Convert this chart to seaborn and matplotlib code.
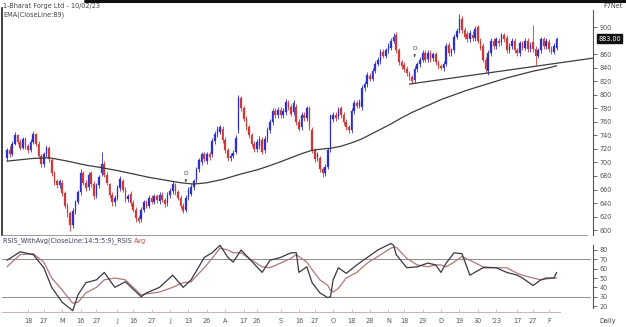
import matplotlib
matplotlib.use("Agg")
import matplotlib.pyplot as plt
import matplotlib.transforms as mtrans
from matplotlib.lines import Line2D
import numpy as np
import pandas as pd
import seaborn as sns

# ---------------- data ----------------
opens = [706,718,712,728,740,731,722,735,724,718,
         730,742,728,710,698,712,722,703,684,672,
         666,670,655,636,625,607,628,641,656,685,
         670,663,684,668,652,666,685,698,682,668,
         652,641,648,662,672,660,646,654,640,630,
         618,616,630,641,636,648,642,650,643,652,
         645,640,652,658,668,656,648,636,630,648,
         654,664,674,690,700,712,702,712,712,732,
         742,745,750,733,718,706,710,716,748,795,
         780,765,752,740,728,720,724,733,718,735,
         748,760,776,770,778,770,774,788,782,774,
         782,760,752,770,766,780,748,718,708,706,
         690,684,694,720,764,770,768,780,770,760,
         752,748,776,788,784,782,810,816,828,824,
         836,846,850,864,858,866,870,880,888,866,
         848,844,838,832,826,822,838,845,852,862,
         853,862,854,860,848,842,840,846,874,862,
         866,886,895,912,896,890,882,888,884,900,
         880,872,852,836,862,880,872,880,878,888,
         884,866,872,880,866,862,876,870,880,868,
         878,868,858,866,882,872,878,868,864,870]
closes = [718,712,728,740,731,722,735,724,718,730,
          742,728,710,697,712,722,705,684,671,666,
          672,655,636,625,607,628,641,656,685,670,
          662,682,668,650,666,678,698,682,670,652,
          641,648,662,676,660,646,650,640,630,618,
          614,630,641,636,648,642,650,644,652,645,
          638,652,658,668,656,648,636,628,648,660,
          664,672,690,703,712,705,712,708,732,742,
          750,752,733,718,706,710,714,736,795,780,
          765,752,740,728,720,730,735,716,735,748,
          760,776,770,778,770,776,790,782,772,788,
          760,750,770,766,780,752,718,705,712,690,
          684,694,718,768,770,766,778,770,760,752,
          748,776,788,784,790,810,816,830,824,836,
          846,852,864,858,866,872,880,886,866,848,
          842,838,832,826,820,838,845,852,862,852,
          862,852,860,848,842,840,846,872,862,866,
          886,895,912,896,886,882,892,884,898,880,
          870,852,838,862,880,872,882,876,888,882,
          866,872,880,866,862,876,870,880,868,874,
          868,858,866,882,872,880,868,864,872,883]
highs = [722,724,732,745,742,734,738,738,728,734,
         746,744,732,712,716,726,724,706,688,676,
         676,674,658,640,628,632,644,660,690,688,
         674,686,688,672,670,682,715,702,686,670,
         656,652,666,680,676,664,654,658,644,634,
         622,634,645,645,652,652,654,654,656,656,
         648,656,662,672,670,660,652,640,652,664,
         668,676,694,706,716,716,716,716,736,746,
         754,756,754,737,722,714,718,740,800,798,
         784,769,756,744,732,734,739,737,739,752,
         764,780,780,782,782,780,794,792,786,792,
         786,764,774,774,784,784,752,722,716,710,
         694,698,722,772,774,774,782,784,774,764,
         756,780,792,792,794,814,820,834,832,840,
         850,856,868,868,870,876,884,892,893,870,
         852,848,842,836,830,842,849,856,866,866,
         866,866,864,864,852,846,850,876,878,870,
         890,899,919,916,900,894,896,894,902,904,
         884,876,856,866,884,884,886,884,892,892,
         888,876,884,884,870,880,880,884,884,878,
         904,872,870,886,886,884,882,872,876,886]
lows = [702,708,709,726,728,718,720,720,714,716,
        728,724,706,693,694,708,700,680,667,662,
        662,650,632,620,598,603,624,638,652,666,
        658,660,664,646,648,662,680,678,666,648,
        636,636,644,658,656,642,642,636,626,612,
        610,612,626,632,632,638,638,640,639,641,
        634,636,648,654,652,644,632,625,626,644,
        650,660,670,686,696,700,698,704,708,728,
        738,742,729,714,702,702,706,712,744,776,
        761,748,736,724,716,716,720,712,714,731,
        744,756,766,766,766,766,770,778,768,770,
        756,746,748,762,762,748,714,701,702,686,
        678,680,690,716,760,762,764,766,756,748,
        744,744,772,780,780,778,806,812,820,820,
        832,842,846,854,854,862,866,876,862,844,
        838,834,828,822,816,818,834,841,848,848,
        849,848,850,844,838,837,836,842,858,858,
        862,882,891,892,882,878,878,880,880,876,
        866,848,832,830,858,868,868,872,874,878,
        862,862,868,862,858,858,866,866,864,864,
        864,844,854,862,868,868,864,860,860,866]

ema_days = [0,5,10,16,23,30,35,42,48,54,60,66,71,76,82,89,95,99,104,108,112,116,120,
            123,127,131,135,139,142,146,150,154,158,161,165,170,175,180,185,190,195,200,205,209]
ema_values = [702,704,706,707,702,696,693,688,683,678,674,670,668,670,675,683,689,694,701,707,713,718,720,
              721,724,729,735,743,749,757,766,774,781,786,793,800,807,813,819,825,830,835,839,843]

rsi_days = [0,5,10,14,17,21,25,27,30,34,37,41,45,51,53,58,63,67,70,75,78,81,84,86,89,
            92,97,100,104,108,110,111,114,116,119,122,123,124,126,129,133,137,141,146,147,
            148,152,156,160,163,165,167,170,173,176,181,186,190,194,196,200,203,205,208,209]
rsi_values = [69,78,75,61,40,24,15,32,45,48,56,40,46,30,34,40,53,40,48,72,77,85,72,67,80,
              71,56,69,72,77,77,56,62,45,34,29,30,48,61,55,64,72,80,87,85,
              75,61,62,66,64,56,66,77,76,53,61,61,56,53,50,42,48,50,50,56]
rsi_avg_values = [62,75,76,67,50,37,23,24,34,40,48,50,48,32,33,35,40,45,46,61,71,82,80,77,77,
                  71,62,61,66,71,75,73,67,59,48,42,37,35,39,50,56,66,73,82,83,
                  83,71,64,62,64,64,62,67,73,69,62,61,61,55,53,50,48,49,50,50]

tick_days = [8,14,21,28,34,42,48,55,62,69,76,83,90,95,104,111,117,124,131,138,
             145,151,158,165,172,179,186,194,200,206]
tick_labels = ['18','27','M','16','27','J','16','27','J','13','26','A','17','26','S',
               '16','27','O','18','28','N','18','29','D','19','30',"'23",'17','27','F']
price_ticks = [600,620,640,660,680,700,720,740,760,780,800,820,840,860,900]
rsi_ticks = [20,30,40,50,60,70,80]
rsi_levels = [70,30]

trend_days = [153,224]
trend_prices = [816,855]
signal_days = [68,155]
signal_prices = [671,856]
last_price = 883.00

# ---------------- figure ----------------
sns.set_theme(style="white")
plt.rcParams['font.family'] = ['DejaVu Sans']

W, H = 626, 327
fig = plt.figure(figsize=(W/100, H/100), dpi=100)
fig.patch.set_facecolor('white')

def rect(l, t, r, b):
    return [l/W, 1-b/H, (r-l)/W, (b-t)/H]

ax = fig.add_axes(rect(2, 8, 593, 235))
ax2 = fig.add_axes(rect(2, 237, 593, 312), sharex=ax)

x0 = (2-7)/2.63
x1 = (593-7)/2.63
txt = '#555555'
fs = 4.7

df = pd.DataFrame({'day': np.arange(len(closes)), 'open': opens, 'high': highs,
                   'low': lows, 'close': closes})
df['up'] = df['close'] >= df['open']
up_c, dn_c = '#2f2fcf', '#d03838'
colors = np.where(df['up'], up_c, dn_c)

ax.vlines(df['day'], df['low'], df['high'], colors=colors, lw=0.6, zorder=2)
body_h = (df['close']-df['open']).abs().clip(lower=1.2)
ax.bar(df['day'], body_h, bottom=df[['open','close']].min(axis=1), width=0.62,
       color=colors, edgecolor=colors, linewidth=0.2, zorder=3)

sns.lineplot(x=ema_days, y=ema_values, ax=ax, color='#3c3c3c', lw=0.9, zorder=4)
sns.lineplot(x=trend_days, y=trend_prices, ax=ax, color='#3c3c3c', lw=0.9, zorder=4)

for d, p in zip(signal_days, signal_prices):
    ax.annotate('D', xy=(d, p), xytext=(d, p+13), ha='center', va='center',
                fontsize=4.3, color='#444444',
                arrowprops=dict(arrowstyle='-|>', lw=0.5, color='#444444',
                                mutation_scale=3, shrinkA=1.5, shrinkB=0))

ax.set_xlim(x0, x1)
ax.set_ylim(592.7, 928.5)
ax.yaxis.tick_right()
ax.set_yticks(price_ticks)
ax.set_yticklabels([str(v) for v in price_ticks])
ax.tick_params(axis='y', right=True, length=3, width=0.6, color=txt, labelsize=fs,
               labelcolor=txt, pad=1.8, direction='out')
ax.tick_params(axis='x', bottom=False, labelbottom=False)
ax.set_xlabel(''); ax.set_ylabel('')
ax.spines['top'].set_visible(False)
ax.spines['left'].set_color('#222222'); ax.spines['left'].set_linewidth(1.2)
ax.spines['right'].set_color('#555555'); ax.spines['right'].set_linewidth(0.8)
ax.spines['right'].set_bounds(592.7, 925)
ax.spines['bottom'].set_color('#9a9a9a'); ax.spines['bottom'].set_linewidth(0.7)
ax.spines['bottom'].set_bounds(x0, (587-7)/2.63)
ax.grid(False)

ax.text(1.009, last_price, '%.2f' % last_price,
        transform=mtrans.blended_transform_factory(ax.transAxes, ax.transData),
        ha='left', va='center', fontsize=fs, color='white', zorder=10,
        bbox=dict(boxstyle='square,pad=0.2', fc='#111111', ec='#111111'))

# ---------------- RSI panel ----------------
sns.lineplot(x=rsi_days, y=rsi_avg_values, ax=ax2, color='#b07878', lw=0.9)
sns.lineplot(x=rsi_days, y=rsi_values, ax=ax2, color='#3a3545', lw=0.9)
for lv in rsi_levels:
    ax2.axhline(lv, xmin=0, xmax=(590-2)/591, color='#8c8c8c', lw=0.7, zorder=1)

ax2.set_ylim(13.6, 93.9)
ax2.yaxis.tick_right()
ax2.set_yticks(rsi_ticks)
ax2.set_yticklabels([str(v) for v in rsi_ticks])
ax2.tick_params(axis='y', right=True, length=3, width=0.6, color=txt, labelsize=fs,
                labelcolor=txt, pad=1.8)
ax2.set_xticks(tick_days)
ax2.set_xticklabels(tick_labels)
ax2.tick_params(axis='x', bottom=True, direction='in', length=2, width=0.5,
                color='#d0a0a0', labelsize=fs, labelcolor=txt, pad=4.5)
ax2.set_xlabel(''); ax2.set_ylabel('')
for s in ['top', 'left']:
    ax2.spines[s].set_visible(False)
ax2.spines['right'].set_color('#555555'); ax2.spines['right'].set_linewidth(0.8)
ax2.spines['right'].set_bounds(17.9, 85.4)
ax2.spines['bottom'].set_color('#c8b4b4'); ax2.spines['bottom'].set_linewidth(0.7)
ax2.spines['bottom'].set_bounds(x0, (560-7)/2.63)
ax2.set_xlim(x0, x1)
ax2.grid(False)

# ---------------- texts ----------------
fig.add_artist(Line2D([85/W, 1], [1-1/H, 1-1/H], color='#111111', lw=2.2))
fig.text(3/W, 1-6/H, '1-Bharat Forge Ltd - 10/02/23', fontsize=fs, color='#444444', va='center')
fig.text(3/W, 1-15/H, 'EMA(CloseLine:89)', fontsize=fs, color='#444444', va='center')
fig.text(623/W, 1-6/H, 'F7Net', fontsize=fs, color='#444444', va='center', ha='right')
fig.text(608/W, 1-321/H, 'Daily', fontsize=fs, color='#444444', va='center', ha='center')

t1 = fig.text(3/W, 1-241/H, 'RSIS_WithAvg(CloseLine:14:5:5:9)_RSIS ', fontsize=fs,
              color='#3a4060', va='center')
r = fig.canvas.get_renderer()
bb = t1.get_window_extent(renderer=r)
fig.text(bb.x1/W, 1-241/H, 'Avg', fontsize=fs, color='#c05050', va='center')

fig.savefig('out.png', dpi=100)
